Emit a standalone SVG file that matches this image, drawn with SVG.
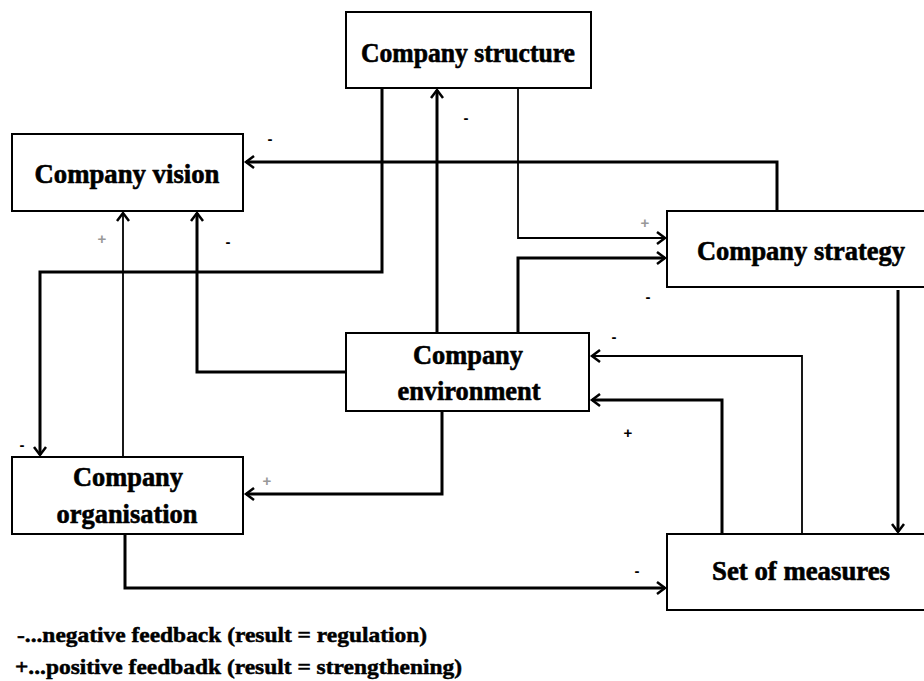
<svg xmlns="http://www.w3.org/2000/svg" width="924" height="681" viewBox="0 0 924 681">
<style>
.box{fill:#fff;stroke:#000;stroke-width:2}
.t{font-family:"Liberation Serif","Times New Roman",serif;font-weight:bold;font-size:27px;fill:#000;stroke:#000;stroke-width:0.6;text-anchor:middle}
.lg{font-family:"Liberation Serif","Times New Roman",serif;font-weight:bold;font-size:22px;fill:#000;stroke:#000;stroke-width:0.5}
.c{fill:none;stroke:#000;stroke-width:3;marker-end:url(#ah)}
.thin{stroke-width:1.8}
.lb{font-family:"Liberation Sans",Arial,sans-serif;font-weight:bold;font-size:15px;text-anchor:middle;fill:#000}
.lp{fill:#999}
</style>
<defs>
<marker id="ah" markerUnits="userSpaceOnUse" markerWidth="20" markerHeight="20" refX="0" refY="0" viewBox="-10 -10 20 20" orient="auto" overflow="visible">
<path d="M-8,-6 L0,0 L-8,6" fill="none" stroke="#000" stroke-width="2.5"/>
</marker>
</defs>
<rect width="924" height="681" fill="#fff"/>
<g id="connectors">
<path class="c" d="M777,211 V162 H246"/>
<path class="c" d="M382,88 V272 H40 V455"/>
<path class="c" d="M437,333 V90"/>
<path class="c thin" d="M518,88 V238 H665"/>
<path class="c" d="M518,333 V258 H665"/>
<path class="c" d="M346,372 H197 V213"/>
<path class="c thin" d="M123,457 V213"/>
<path class="c" d="M442,411 V494 H246"/>
<path class="c" d="M125,534 V588 H665"/>
<path class="c" d="M898,290 V532"/>
<path class="c thin" d="M802,534 V356 H592"/>
<path class="c" d="M722,534 V400 H592"/>
</g>
<g id="structure">
<rect class="box" x="346" y="12" width="245" height="76"/>
<text class="t" x="468" y="62" textLength="214" lengthAdjust="spacingAndGlyphs">Company structure</text>
</g>
<g id="vision">
<rect class="box" x="12" y="134" width="231" height="77"/>
<text class="t" x="127" y="183" textLength="185" lengthAdjust="spacingAndGlyphs">Company vision</text>
</g>
<g id="strategy">
<rect class="box" x="667" y="211" width="270" height="76"/>
<text class="t" x="801" y="260" textLength="208" lengthAdjust="spacingAndGlyphs">Company strategy</text>
</g>
<g id="environment">
<rect class="box" x="346" y="333" width="243" height="78"/>
<text class="t" x="468" y="364" textLength="110" lengthAdjust="spacingAndGlyphs">Company</text>
<text class="t" x="469" y="400" textLength="143" lengthAdjust="spacingAndGlyphs">environment</text>
</g>
<g id="organisation">
<rect class="box" x="12" y="457" width="231" height="77"/>
<text class="t" x="128" y="486" textLength="110" lengthAdjust="spacingAndGlyphs">Company</text>
<text class="t" x="127" y="523" textLength="141" lengthAdjust="spacingAndGlyphs">organisation</text>
</g>
<g id="measures">
<rect class="box" x="667" y="534" width="270" height="76"/>
<text class="t" x="801" y="580" textLength="178" lengthAdjust="spacingAndGlyphs">Set of measures</text>
</g>
<g id="labels">
<text class="lb" x="270" y="144">-</text>
<text class="lb" x="466" y="123">-</text>
<text class="lb lp" x="645" y="228">+</text>
<text class="lb" x="648" y="302">-</text>
<text class="lb" x="228" y="247">-</text>
<text class="lb lp" x="102" y="244">+</text>
<text class="lb" x="22" y="450">-</text>
<text class="lb lp" x="267" y="486">+</text>
<text class="lb" x="614" y="342">-</text>
<text class="lb" x="628" y="438">+</text>
<text class="lb" x="637" y="576">-</text>
</g>
<g id="legend">
<text class="lg" x="17" y="642" textLength="410" lengthAdjust="spacingAndGlyphs">-...negative  feedback (result = regulation)</text>
<text class="lg" x="15" y="674" textLength="447" lengthAdjust="spacingAndGlyphs">+...positive feedbadk (result = strengthening)</text>
</g>
</svg>
